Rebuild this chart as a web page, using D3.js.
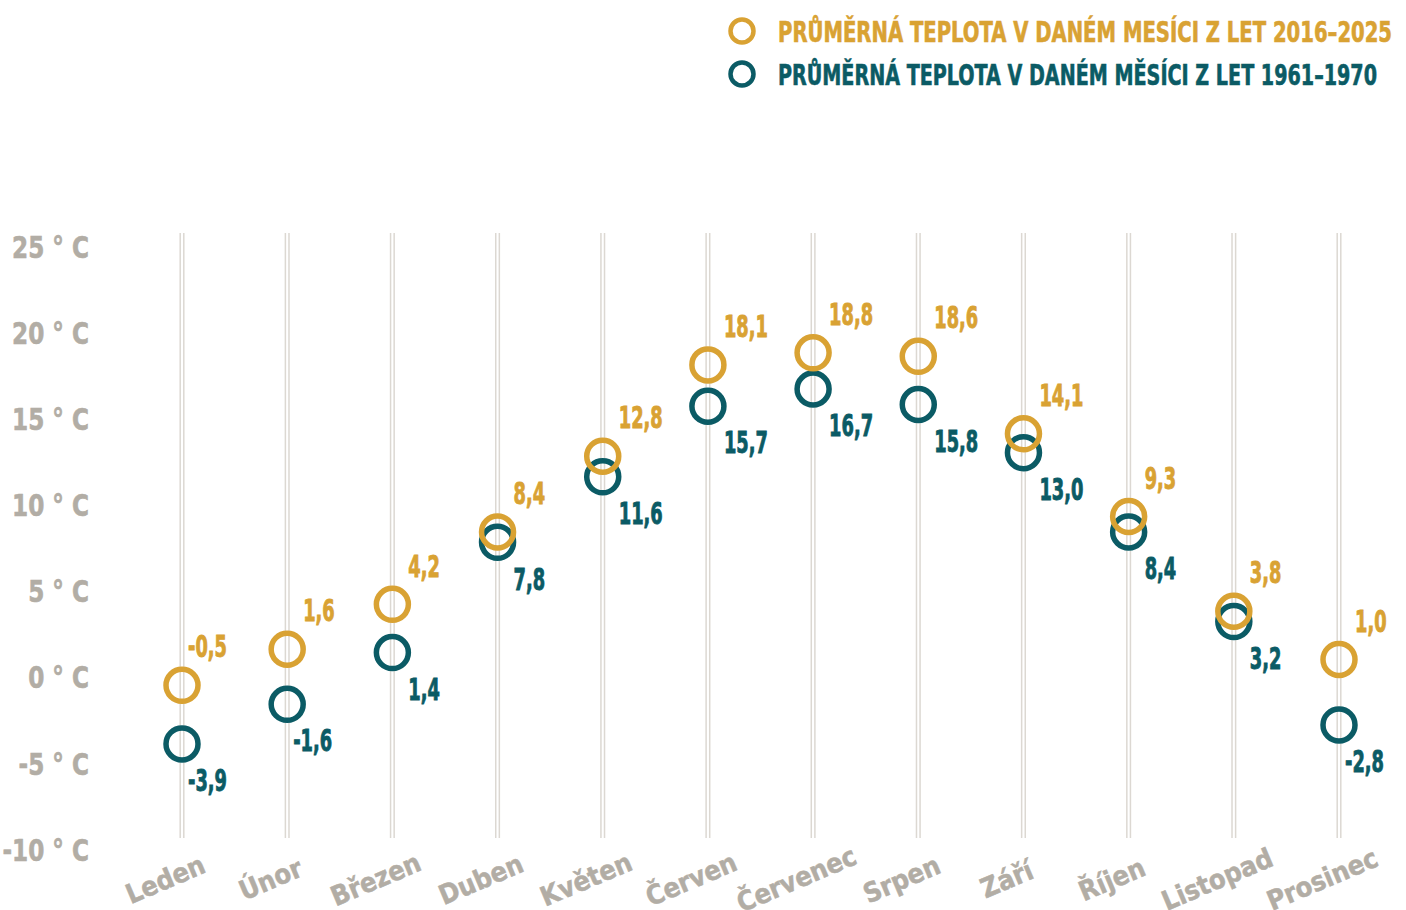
<!DOCTYPE html>
<html>
<head>
<meta charset="utf-8">
<script src="https://cdn.jsdelivr.net/npm/d3@7"></script>
<style>
  body { margin: 0; background: #fff; }
  svg text { font-family: "DejaVu Sans Condensed", "DejaVu Sans", sans-serif; font-weight: bold; }
</style>
</head>
<body>
<div class="chart"></div>
<script>
/*
    Data
*/
const months = ["Leden", "Únor", "Březen", "Duben", "Květen", "Červen",
                "Červenec", "Srpen", "Září", "Říjen", "Listopad", "Prosinec"];
const recent = [-0.5, 1.6, 4.2, 8.4, 12.8, 18.1, 18.8, 18.6, 14.1, 9.3, 3.8, 1.0];
const old = [-3.9, -1.6, 1.4, 7.8, 11.6, 15.7, 16.7, 15.8, 13.0, 8.4, 3.2, -2.8];
const yTicks = [25, 20, 15, 10, 5, 0, -5, -10];
const legendLabels = ["PRŮMĚRNÁ TEPLOTA V DANÉM MESÍCI Z LET 2016–2025",
                      "PRŮMĚRNÁ TEPLOTA V DANÉM MĚSÍCI Z LET 1961–1970"];

/*
    Configuration
*/
const width = 1406, height = 910;
const colors = { recent: "#d9a233", old: "#0b5b65", axis: "#b2ada5", grid: "#dcd8d2" };
const valueSize = 31, tickSize = 31;

const svg = d3.select(".chart").append("svg")
    .attr("width", width)
    .attr("height", height);

// the original font is very condensed: squeeze text horizontally
function squeeze(sample, size, target) {
    const t = svg.append("text").attr("font-size", size).text(sample);
    const w = t.node().getComputedTextLength();
    t.remove();
    return target / w;
}
const valueScale = squeeze("18,1", valueSize, 44);
const tickScale = squeeze("25 ° C", tickSize, 77);

const x = d3.scalePoint().domain(months).range([182, 1339]);
const y = d3.scaleLinear().domain([-10, 25]).range([849, 246]);

const fmt = v => d3.format(".1f")(v).replace(".", ",").replace("−", "-");

/* Gridlines (double) */
const grid = svg.append("g");
months.forEach(m => {
    [-1.8, 1.8].forEach(off => {
        grid.append("line")
            .attr("x1", x(m) + off).attr("x2", x(m) + off)
            .attr("y1", y(25) - 13).attr("y2", y(-10) - 11)
            .attr("stroke", colors.grid)
            .attr("stroke-width", 1.5);
    });
});

/* Y axis */
const yAxis = d3.axisLeft(y)
    .tickValues(yTicks)
    .tickSize(0)
    .tickPadding(0)
    .tickFormat(d => d + " ° C");

svg.append("g")
    .attr("transform", "translate(89,0)")
    .call(yAxis)
    .call(g => g.select(".domain").remove())
    .selectAll("text")
        .attr("fill", colors.axis)
        .attr("stroke", colors.axis)
        .attr("stroke-width", 0.6)
        .attr("font-size", tickSize)
        .attr("font-family", null)
        .attr("dy", "0.36em")
        .attr("transform", `scale(${tickScale},1)`);

/* X labels */
svg.append("g").selectAll("text")
    .data(months)
    .join("text")
        .attr("transform", d => `translate(${x(d) - 13},${y(-10) + 39}) rotate(-23)`)
        .attr("text-anchor", "middle")
        .attr("fill", colors.axis)
        .attr("stroke", colors.axis)
        .attr("stroke-width", 0.5)
        .attr("font-size", 27)
        .text(d => d);

/* Series */
function drawSeries(values, color, labelDy) {
    const g = svg.append("g");
    g.selectAll("circle")
        .data(values)
        .join("circle")
            .attr("cx", (d, i) => x(months[i]))
            .attr("cy", d => y(d))
            .attr("r", 16)
            .attr("fill", "none")
            .attr("stroke", color)
            .attr("stroke-width", 5.5);
    g.selectAll("text")
        .data(values)
        .join("text")
            .attr("transform", (d, i) =>
                `translate(${x(months[i]) + (d < 0 ? 6 : 16)},${y(d) + labelDy}) scale(${valueScale},1)`)
            .attr("dy", "0.36em")
            .attr("fill", color)
            .attr("stroke", color)
            .attr("stroke-width", 0.9)
            .attr("font-size", valueSize)
            .text(d => fmt(d));
}
drawSeries(old, colors.old, 36);
drawSeries(recent, colors.recent, -39);

/* Legend */
const legendWidths = [614, 599];
const legend = svg.append("g");
[colors.recent, colors.old].forEach((c, i) => {
    legend.append("circle")
        .attr("cx", 742).attr("cy", 31 + i * 43)
        .attr("r", 11.5)
        .attr("fill", "none")
        .attr("stroke", c)
        .attr("stroke-width", 4.5);
    legend.append("text")
        .attr("x", 778).attr("y", 32 + i * 43)
        .attr("dy", "0.36em")
        .attr("fill", c)
        .attr("stroke", c)
        .attr("stroke-width", 0.6)
        .attr("font-size", 28)
        .attr("textLength", legendWidths[i])
        .attr("lengthAdjust", "spacingAndGlyphs")
        .text(legendLabels[i]);
});
</script>
</body>
</html>
